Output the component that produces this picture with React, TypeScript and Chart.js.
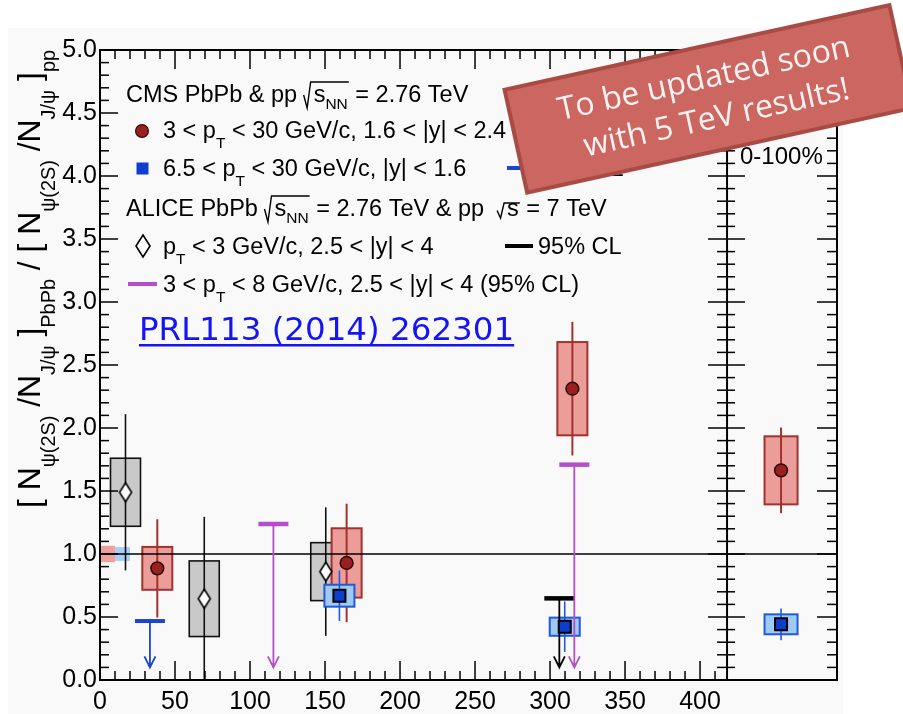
import React, { useEffect, useRef } from "react";
import { Chart, registerables } from "chart.js";

Chart.register(...registerables);

// ---------------- data ----------------
// ALICE PbPb, pT < 3 GeV/c, 2.5 < |y| < 4 (open diamonds, grey boxes)
const aliceNpart = [17, 69.5, 150.5];
const aliceRatio = [1.49, 0.645, 0.86];
const aliceStat = [0.62, 0.65, 0.51];
const aliceSyst = [0.27, 0.3, 0.23];

// CMS, 3 < pT < 30 GeV/c, 1.6 < |y| < 2.4 (red circles)
const cmsFwdNpart = [38.2, 164.4, 314.9];
const cmsFwdRatio = [0.886, 0.929, 2.312];
const cmsFwdStat = [0.39, 0.47, 0.53];
const cmsFwdSyst = [0.17, 0.275, 0.37];

// CMS, 6.5 < pT < 30 GeV/c, |y| < 1.6 (blue squares)
const cmsMidNpart = [159.6, 309.8];
const cmsMidRatio = [0.669, 0.423];
const cmsMidStat = [0.2, 0.2];
const cmsMidSyst = [0.087, 0.072];

// 95% CL upper limits
const cmsMidLimitNpart = [33.3];
const cmsMidLimit = [0.468];
const aliceLimitNpart = [306.2];
const aliceLimit = [0.648];
const aliceHighPtLimitNpart = [115.6, 316.2];
const aliceHighPtLimit = [1.238, 1.709];

// 0-100% integrated values: [CMS 1.6<|y|<2.4, CMS |y|<1.6]
const minBiasRatio = [1.664, 0.442];
const minBiasStat = [0.34, 0.126];
const minBiasSyst = [0.27, 0.079];

// global uncertainties drawn at unity: [CMS 1.6<|y|<2.4, CMS |y|<1.6]
const globalUnc = [0.065, 0.055];

// axis ticks
const xTicks = [0, 50, 100, 150, 200, 250, 300, 350, 400];
const yTicks = [0, 0.5, 1, 1.5, 2, 2.5, 3, 3.5, 4, 4.5, 5];

// ---------------- layout constants ----------------
const X_MAX = 491.3;      // right end of the side panel
const PANEL_SPLIT = 418;  // boundary between N_part panel and 0-100% panel
const MB_X = 454;         // horizontal position of the 0-100% points
const HALF_W = 10;        // half width of systematic boxes
const MB_HALF_W = 11;
const ARROW_END = 0.1;
const FONT = '"Liberation Sans", Arial, Helvetica, sans-serif';

const RED_FILL = "#eb9d99";
const RED_LINE = "#a3322c";
const BLUE_FILL = "#9fcaf4";
const BLUE_LINE = "#1f59dc";
const MAGENTA = "#b24fc9";

type Seg = { t?: string; sub?: boolean; dy?: number; root?: Seg[]; rTop?: number; rBot?: number };

function segWidth(ctx: CanvasRenderingContext2D, segs: Seg[], main: string, sub: string): number {
  let w = 0;
  for (const s of segs) {
    if (s.root) {
      w += 10 + segWidth(ctx, s.root, main, sub) + 1;
    } else {
      ctx.font = s.sub ? sub : main;
      w += ctx.measureText(s.t || "").width;
    }
  }
  return w;
}

function drawRich(ctx: CanvasRenderingContext2D, x: number, y: number, segs: Seg[], main: string, sub: string, subDy: number): number {
  let cx = x;
  for (const s of segs) {
    if (s.root) {
      const w = segWidth(ctx, s.root, main, sub);
      const yt = y - (s.rTop ?? 20);
      const yb = y + (s.rBot ?? 6);
      ctx.save();
      ctx.strokeStyle = "#000";
      ctx.lineWidth = 1.4;
      ctx.beginPath();
      ctx.moveTo(cx, yt + (yb - yt) * 0.5);
      ctx.lineTo(cx + 3.5, yb);
      ctx.lineTo(cx + 7, yt);
      ctx.lineTo(cx + 10 + w + 1, yt);
      ctx.stroke();
      ctx.restore();
      cx = drawRich(ctx, cx + 10, y, s.root, main, sub, subDy) + 1;
    } else {
      ctx.font = s.sub ? sub : main;
      ctx.fillText(s.t || "", cx, s.sub ? y + (s.dy ?? subDy) : y);
      cx += ctx.measureText(s.t || "").width;
    }
  }
  return cx;
}

function diamondCanvas(w: number, h: number, lw: number): HTMLCanvasElement {
  const c = document.createElement("canvas");
  c.width = Math.ceil(w + 2 * lw);
  c.height = Math.ceil(h + 2 * lw);
  const g = c.getContext("2d")!;
  const cx = c.width / 2, cy = c.height / 2;
  g.beginPath();
  g.moveTo(cx, cy - h / 2);
  g.lineTo(cx + w / 2, cy);
  g.lineTo(cx, cy + h / 2);
  g.lineTo(cx - w / 2, cy);
  g.closePath();
  g.fillStyle = "#fff";
  g.fill();
  g.lineWidth = lw;
  g.strokeStyle = "#000";
  g.stroke();
  return c;
}

const annotations = {
  id: "annotations",
  beforeDraw(chart: any) {
    const { ctx, width, height } = chart;
    ctx.save();
    ctx.fillStyle = "#ffffff";
    ctx.fillRect(0, 0, width, height);
    ctx.fillStyle = "#f9f9f9";
    ctx.fillRect(8, 28, 835, height - 28);
    ctx.restore();
  },
  beforeDatasetsDraw(chart: any) {
    const { ctx, chartArea } = chart;
    const xs = chart.scales.x;
    const ys = chart.scales.y;
    const { left, right, top, bottom } = chartArea;
    ctx.save();
    ctx.beginPath();
    ctx.rect(left, top, right - left, bottom - top);
    ctx.clip();

    const rangeBox = (x0: number, x1: number, y0: number, y1: number, fill: string, stroke?: string, lw = 2) => {
      const l = xs.getPixelForValue(x0), r = xs.getPixelForValue(x1);
      const t = ys.getPixelForValue(y1), b = ys.getPixelForValue(y0);
      ctx.fillStyle = fill;
      ctx.fillRect(l, t, r - l, b - t);
      if (stroke) {
        ctx.strokeStyle = stroke;
        ctx.lineWidth = lw;
        ctx.strokeRect(l, t, r - l, b - t);
      }
    };
    const statBar = (x: number, y: number, e: number, color: string, lw: number) => {
      const px = xs.getPixelForValue(x);
      ctx.strokeStyle = color;
      ctx.lineWidth = lw;
      ctx.beginPath();
      ctx.moveTo(px, ys.getPixelForValue(y + e));
      ctx.lineTo(px, ys.getPixelForValue(y - e));
      ctx.stroke();
    };

    // global uncertainties at unity
    const gFill = ["rgba(236,150,146,0.9)", "rgba(160,202,245,0.9)"];
    globalUnc.forEach((g, i) => rangeBox(i * 10, i * 10 + 10, 1 - g, 1 + g, gFill[i]));

    // ALICE
    aliceNpart.forEach((x, i) =>
      rangeBox(x - HALF_W, x + HALF_W, aliceRatio[i] - aliceSyst[i], aliceRatio[i] + aliceSyst[i], "#c9c9c9", "#111", 1.6)
    );
    aliceNpart.forEach((x, i) => statBar(x, aliceRatio[i], aliceStat[i], "#111", 1.6));

    // CMS 1.6 < |y| < 2.4
    cmsFwdNpart.forEach((x, i) =>
      rangeBox(x - HALF_W, x + HALF_W, cmsFwdRatio[i] - cmsFwdSyst[i], cmsFwdRatio[i] + cmsFwdSyst[i], RED_FILL, RED_LINE)
    );
    rangeBox(MB_X - MB_HALF_W, MB_X + MB_HALF_W, minBiasRatio[0] - minBiasSyst[0], minBiasRatio[0] + minBiasSyst[0], RED_FILL, RED_LINE);
    cmsFwdNpart.forEach((x, i) => statBar(x, cmsFwdRatio[i], cmsFwdStat[i], RED_LINE, 2));
    statBar(MB_X, minBiasRatio[0], minBiasStat[0], RED_LINE, 2);

    // CMS |y| < 1.6
    cmsMidNpart.forEach((x, i) =>
      rangeBox(x - HALF_W, x + HALF_W, cmsMidRatio[i] - cmsMidSyst[i], cmsMidRatio[i] + cmsMidSyst[i], BLUE_FILL, BLUE_LINE)
    );
    rangeBox(MB_X - MB_HALF_W, MB_X + MB_HALF_W, minBiasRatio[1] - minBiasSyst[1], minBiasRatio[1] + minBiasSyst[1], BLUE_FILL, BLUE_LINE);
    cmsMidNpart.forEach((x, i) => statBar(x, cmsMidRatio[i], cmsMidStat[i], BLUE_LINE, 1.6));
    statBar(MB_X, minBiasRatio[1], minBiasStat[1], BLUE_LINE, 1.6);

    // unity line
    const y1 = ys.getPixelForValue(1);
    ctx.strokeStyle = "#000";
    ctx.lineWidth = 1.5;
    ctx.beginPath();
    ctx.moveTo(left, y1);
    ctx.lineTo(right, y1);
    ctx.stroke();

    // upper limits
    const limit = (x: number, v: number, color: string, barW: number) => {
      const px = xs.getPixelForValue(x);
      const l = xs.getPixelForValue(x - HALF_W), r = xs.getPixelForValue(x + HALF_W);
      const py = ys.getPixelForValue(v);
      const tip = ys.getPixelForValue(ARROW_END);
      ctx.strokeStyle = color;
      ctx.lineWidth = barW;
      ctx.beginPath();
      ctx.moveTo(l, py);
      ctx.lineTo(r, py);
      ctx.stroke();
      ctx.lineWidth = 1.8;
      ctx.beginPath();
      ctx.moveTo(px, py);
      ctx.lineTo(px, tip);
      ctx.moveTo(px - 5.5, tip - 11);
      ctx.lineTo(px, tip);
      ctx.lineTo(px + 5.5, tip - 11);
      ctx.stroke();
    };
    cmsMidLimitNpart.forEach((x, i) => limit(x, cmsMidLimit[i], "#1a46d0", 4));
    aliceLimitNpart.forEach((x, i) => limit(x, aliceLimit[i], "#000", 4.5));
    aliceHighPtLimitNpart.forEach((x, i) => limit(x, aliceHighPtLimit[i], MAGENTA, 4.5));

    ctx.restore();
  },
  afterDraw(chart: any) {
    const { ctx, chartArea } = chart;
    const xs = chart.scales.x;
    const ys = chart.scales.y;
    const { left, right, top, bottom } = chartArea;
    const split = xs.getPixelForValue(PANEL_SPLIT);
    ctx.save();

    // ticks
    ctx.strokeStyle = "#000";
    ctx.lineWidth = 1.5;
    const seg = (x0: number, y0: number, x1: number, y1: number) => {
      ctx.beginPath();
      ctx.moveTo(x0, y0);
      ctx.lineTo(x1, y1);
      ctx.stroke();
    };
    for (let v = 0; v < PANEL_SPLIT; v += 10) {
      const px = xs.getPixelForValue(v);
      const len = v % 50 === 0 ? 19 : 9;
      seg(px, bottom, px, bottom - len);
      seg(px, top, px, top + len);
    }
    for (let k = 0; k <= 50; k++) {
      const py = ys.getPixelForValue(k / 10);
      const major = k % 5 === 0;
      seg(left, py, left + (major ? 18 : 9), py);
      seg(split - (major ? 19 : 10), py, split + (major ? 18 : 8), py);
      seg(right, py, right - (major ? 20 : 10), py);
    }
    // frame
    ctx.lineWidth = 2;
    ctx.strokeRect(left, top, right - left, bottom - top);
    seg(split, top, split, bottom);

    // legend
    const main = `23.5px ${FONT}`;
    const sub = `15.5px ${FONT}`;
    ctx.fillStyle = "#000";
    ctx.textAlign = "left";
    ctx.textBaseline = "alphabetic";
    drawRich(ctx, 126, 102, [{ t: "CMS PbPb & pp " }, { root: [{ t: "s" }, { t: "NN", sub: true, dy: 7 }] }, { t: " = 2.76 TeV" }], main, sub, 10);
    drawRich(ctx, 163, 138, [{ t: "3 < p" }, { t: "T", sub: true }, { t: " < 30 GeV/c, 1.6 < |y| < 2.4" }], main, sub, 10);
    drawRich(ctx, 163, 176, [{ t: "6.5 < p" }, { t: "T", sub: true }, { t: " < 30 GeV/c, |y| < 1.6" }], main, sub, 10);
    drawRich(ctx, 540, 176, [{ t: "95% CL" }], main, sub, 10);
    drawRich(
      ctx, 126, 216,
      [
        { t: "ALICE PbPb " },
        { root: [{ t: "s" }, { t: "NN", sub: true, dy: 7 }] },
        { t: " = 2.76 TeV & pp  " },
        { root: [{ t: "s" }], rTop: 13, rBot: 2 },
        { t: " = 7 TeV" },
      ],
      main, sub, 10
    );
    drawRich(ctx, 163, 254, [{ t: "p" }, { t: "T", sub: true }, { t: " < 3 GeV/c, 2.5 < |y| < 4" }], main, sub, 10);
    drawRich(ctx, 538, 254, [{ t: "95% CL" }], main, sub, 10);
    drawRich(ctx, 163, 292, [{ t: "3 < p" }, { t: "T", sub: true }, { t: " < 8 GeV/c, 2.5 < |y| < 4 (95% CL)" }], main, sub, 10);

    // legend symbols
    ctx.beginPath();
    ctx.arc(142, 131, 6.4, 0, Math.PI * 2);
    ctx.fillStyle = "#9c1f1f";
    ctx.fill();
    ctx.lineWidth = 1.2;
    ctx.strokeStyle = "#3a0a0a";
    ctx.stroke();
    ctx.fillStyle = "#0d3fcf";
    ctx.fillRect(136.5, 162.5, 12, 12);
    ctx.drawImage(diamondCanvas(14, 22, 1.6), 134, 233);
    ctx.lineCap = "butt";
    ctx.lineWidth = 4;
    ctx.strokeStyle = "#1a46d0";
    seg(507, 168, 535, 168);
    ctx.strokeStyle = "#000";
    seg(505, 246, 533, 246);
    ctx.strokeStyle = MAGENTA;
    seg(128, 284, 157, 284);

    // reference link
    ctx.fillStyle = "#1414f5";
    ctx.font = `32.5px "DejaVu Sans", Verdana, sans-serif`;
    ctx.fillText("PRL113 (2014) 262301", 139, 340);
    const lw = ctx.measureText("PRL113 (2014) 262301").width;
    ctx.fillRect(139, 344, lw, 2.5);

    // side panel label
    ctx.fillStyle = "#000";
    ctx.font = `24px ${FONT}`;
    ctx.fillText("0-100%", 740, 164);

    // y-axis title (rotated)
    const tMain = `32px ${FONT}`;
    const tSub = `20px ${FONT}`;
    const title: Seg[] = [
      { t: "[ " }, { t: "N" }, { t: "\u03C8(2S)", sub: true }, { t: " /N" }, { t: "J/\u03C8", sub: true },
      { t: " ]" }, { t: "PbPb", sub: true }, { t: " / [ " }, { t: "N" }, { t: "\u03C8(2S)", sub: true },
      { t: " /N" }, { t: "J/\u03C8", sub: true }, { t: " ]" }, { t: "pp", sub: true },
    ];
    const natural = segWidth(ctx, title, tMain, tSub);
    const fit = 458 / natural;
    ctx.save();
    ctx.translate(40, 508);
    ctx.rotate(-Math.PI / 2);
    ctx.scale(fit, 1);
    drawRich(ctx, 0, 0, title, tMain, tSub, 15);
    ctx.restore();

    // banner
    ctx.save();
    ctx.translate(708.3, 98.9);
    ctx.rotate((-12.4 * Math.PI) / 180);
    ctx.fillStyle = "#cc6660";
    ctx.fillRect(-197, -52.6, 394, 105.2);
    ctx.strokeStyle = "#a84b45";
    ctx.lineWidth = 4;
    ctx.strokeRect(-197, -52.6, 394, 105.2);
    ctx.fillStyle = "rgba(255,250,250,0.95)";
    ctx.font = `32px "Open Sans", sans-serif`;
    ctx.textAlign = "center";
    ctx.textBaseline = "middle";
    ctx.fillText("To be updated soon", 0, -20);
    ctx.fillText("with 5 TeV results!", 4, 21);
    ctx.restore();

    ctx.restore();
  },
};

export default function App() {
  const ref = useRef<HTMLCanvasElement>(null);

  useEffect(() => {
    const canvas = ref.current;
    if (!canvas) return;

    const diamond = diamondCanvas(12, 19, 1.6);
    const fwdPoints = [
      ...cmsFwdNpart.map((x, i) => ({ x, y: cmsFwdRatio[i] })),
      { x: MB_X, y: minBiasRatio[0] },
    ];
    const midPoints = [
      ...cmsMidNpart.map((x, i) => ({ x, y: cmsMidRatio[i] })),
      { x: MB_X, y: minBiasRatio[1] },
    ];
    const alicePoints = aliceNpart.map((x, i) => ({ x, y: aliceRatio[i] }));

    const chart = new Chart(canvas, {
      type: "scatter",
      data: {
        datasets: [
          {
            label: "CMS 6.5 < pT < 30 GeV/c, |y| < 1.6",
            data: midPoints,
            pointStyle: "rect",
            pointRadius: 8.5,
            backgroundColor: "#0d3fcf",
            borderColor: "#000",
            borderWidth: 2,
          },
          {
            label: "CMS 3 < pT < 30 GeV/c, 1.6 < |y| < 2.4",
            data: fwdPoints,
            pointStyle: "circle",
            pointRadius: 6.4,
            backgroundColor: "#9c1f1f",
            borderColor: "#2a0808",
            borderWidth: 1.5,
          },
          {
            label: "ALICE pT < 3 GeV/c, 2.5 < |y| < 4",
            data: alicePoints,
            pointStyle: diamond as any,
          },
        ],
      },
      options: {
        animation: false,
        responsive: false,
        devicePixelRatio: 1,
        events: [],
        layout: { padding: { top: 50, right: 66, bottom: 0, left: 8 } },
        plugins: { legend: { display: false }, tooltip: { enabled: false } },
        scales: {
          x: {
            type: "linear",
            min: 0,
            max: X_MAX,
            grid: { display: false, drawTicks: false },
            border: { display: false },
            afterBuildTicks: (s: any) => {
              s.ticks = xTicks.map((v) => ({ value: v }));
            },
            afterFit: (s: any) => {
              s.height = 34;
            },
            ticks: {
              autoSkip: false,
              maxRotation: 0,
              padding: 7,
              color: "#000",
              font: { family: "Liberation Sans", size: 25 },
              callback: (v: any) => String(v),
            },
          },
          y: {
            type: "linear",
            min: 0,
            max: 5,
            grid: { display: false, drawTicks: false },
            border: { display: false },
            afterBuildTicks: (s: any) => {
              s.ticks = yTicks.map((v) => ({ value: v }));
            },
            afterFit: (s: any) => {
              s.width = 92;
            },
            ticks: {
              padding: 3,
              color: "#000",
              font: { family: "Liberation Sans", size: 25 },
              callback: (v: any) => Number(v).toFixed(1),
            },
          },
        },
      },
      plugins: [annotations],
    });

    return () => chart.destroy();
  }, []);

  return (
    <div style={{ position: "fixed", left: 0, top: 0, width: 903, height: 714, background: "#fff" }}>
      <canvas ref={ref} width={903} height={714} style={{ display: "block", width: 903, height: 714 }} />
    </div>
  );
}
